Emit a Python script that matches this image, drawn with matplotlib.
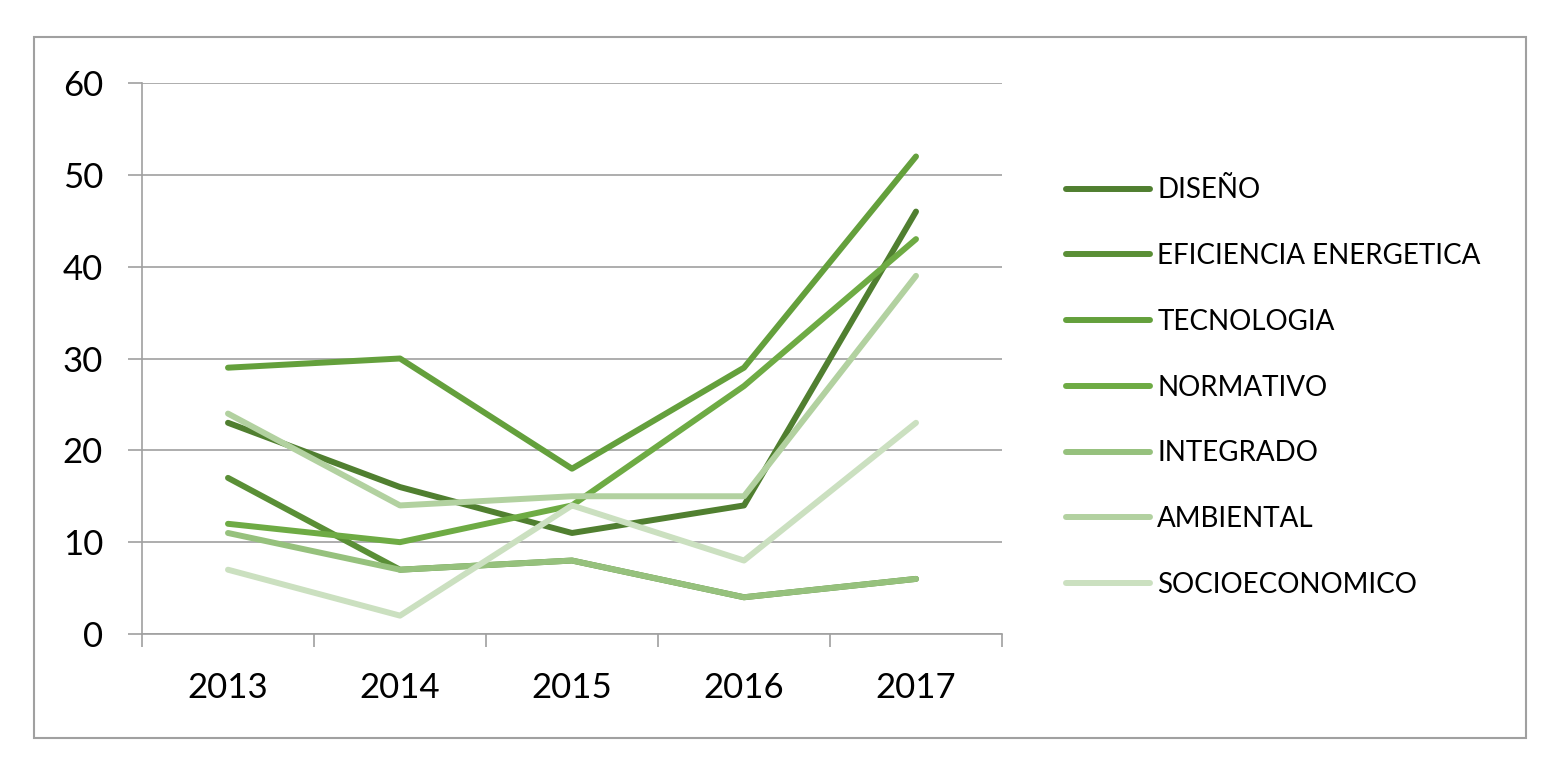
import matplotlib
matplotlib.use('Agg')
import matplotlib.pyplot as plt
from matplotlib.patches import Rectangle
import numpy as np

plt.rcParams['font.family'] = ['Lato', 'DejaVu Sans']

years = ['2013', '2014', '2015', '2016', '2017']
series_names = ['DISEÑO', 'EFICIENCIA ENERGETICA', 'TECNOLOGIA', 'NORMATIVO',
                'INTEGRADO', 'AMBIENTAL', 'SOCIOECONOMICO']
diseno = [23, 16, 11, 14, 46]
eficiencia = [17, 7, 8, 4, 6]
tecnologia = [29, 30, 18, 29, 52]
normativo = [12, 10, 14, 27, 43]
integrado = [11, 7, 8, 4, 6]
ambiental = [24, 14, 15, 15, 39]
socioeconomico = [7, 2, 14, 8, 23]
colors = ['#507f30', '#5a8f36', '#64a03c', '#6eab44', '#96c17d', '#b2d1a0', '#cbe0c0']

W, H = 1553, 761
fig = plt.figure(figsize=(W / 100, H / 100), dpi=100)
ax = fig.add_axes([142 / W, 1 - 634 / H, (1002 - 142) / W, (634 - 83) / H])

x = np.arange(len(years))
all_series = [diseno, eficiencia, tecnologia, normativo, integrado, ambiental, socioeconomico]
for name, vals, c in zip(series_names, all_series, colors):
    ax.plot(x, vals, color=c, lw=4.3, label=name,
            solid_capstyle='round', solid_joinstyle='round')

ax.set_xlim(-0.5, len(years) - 0.5)
ax.set_ylim(0, 60)
ax.set_yticks(range(0, 61, 10))
ax.yaxis.grid(True, color='#a0a0a0', lw=1.2)
ax.set_axisbelow(True)

gray = '#a0a0a0'
for s in ['top', 'right']:
    ax.spines[s].set_visible(False)
for s in ['left', 'bottom']:
    ax.spines[s].set_color(gray)
    ax.spines[s].set_linewidth(1.2)

ax.set_xticks(x)
ax.set_xticklabels(years)
ax.set_xticks(np.arange(-0.5, len(years)), minor=True)
ax.tick_params(axis='x', which='major', length=0, pad=27, labelsize=25)
ax.tick_params(axis='x', which='minor', length=9.5, width=1.2, color=gray)
ax.tick_params(axis='y', length=10, width=1.2, color=gray, pad=18, labelsize=25)

fig.legend(loc='center left', bbox_to_anchor=(1066 / W, 1 - 387.5 / H),
           frameon=False, fontsize=20, borderpad=0, borderaxespad=0,
           handlelength=3.04, handletextpad=0.25, labelspacing=1.43)

fig.patches.append(Rectangle((34 / W, 1 - 738 / H), (1526 - 34) / W, (738 - 37) / H,
                             transform=fig.transFigure, fill=False,
                             edgecolor='#a0a0a0', lw=1.5))

fig.savefig('out.png', dpi=100)
